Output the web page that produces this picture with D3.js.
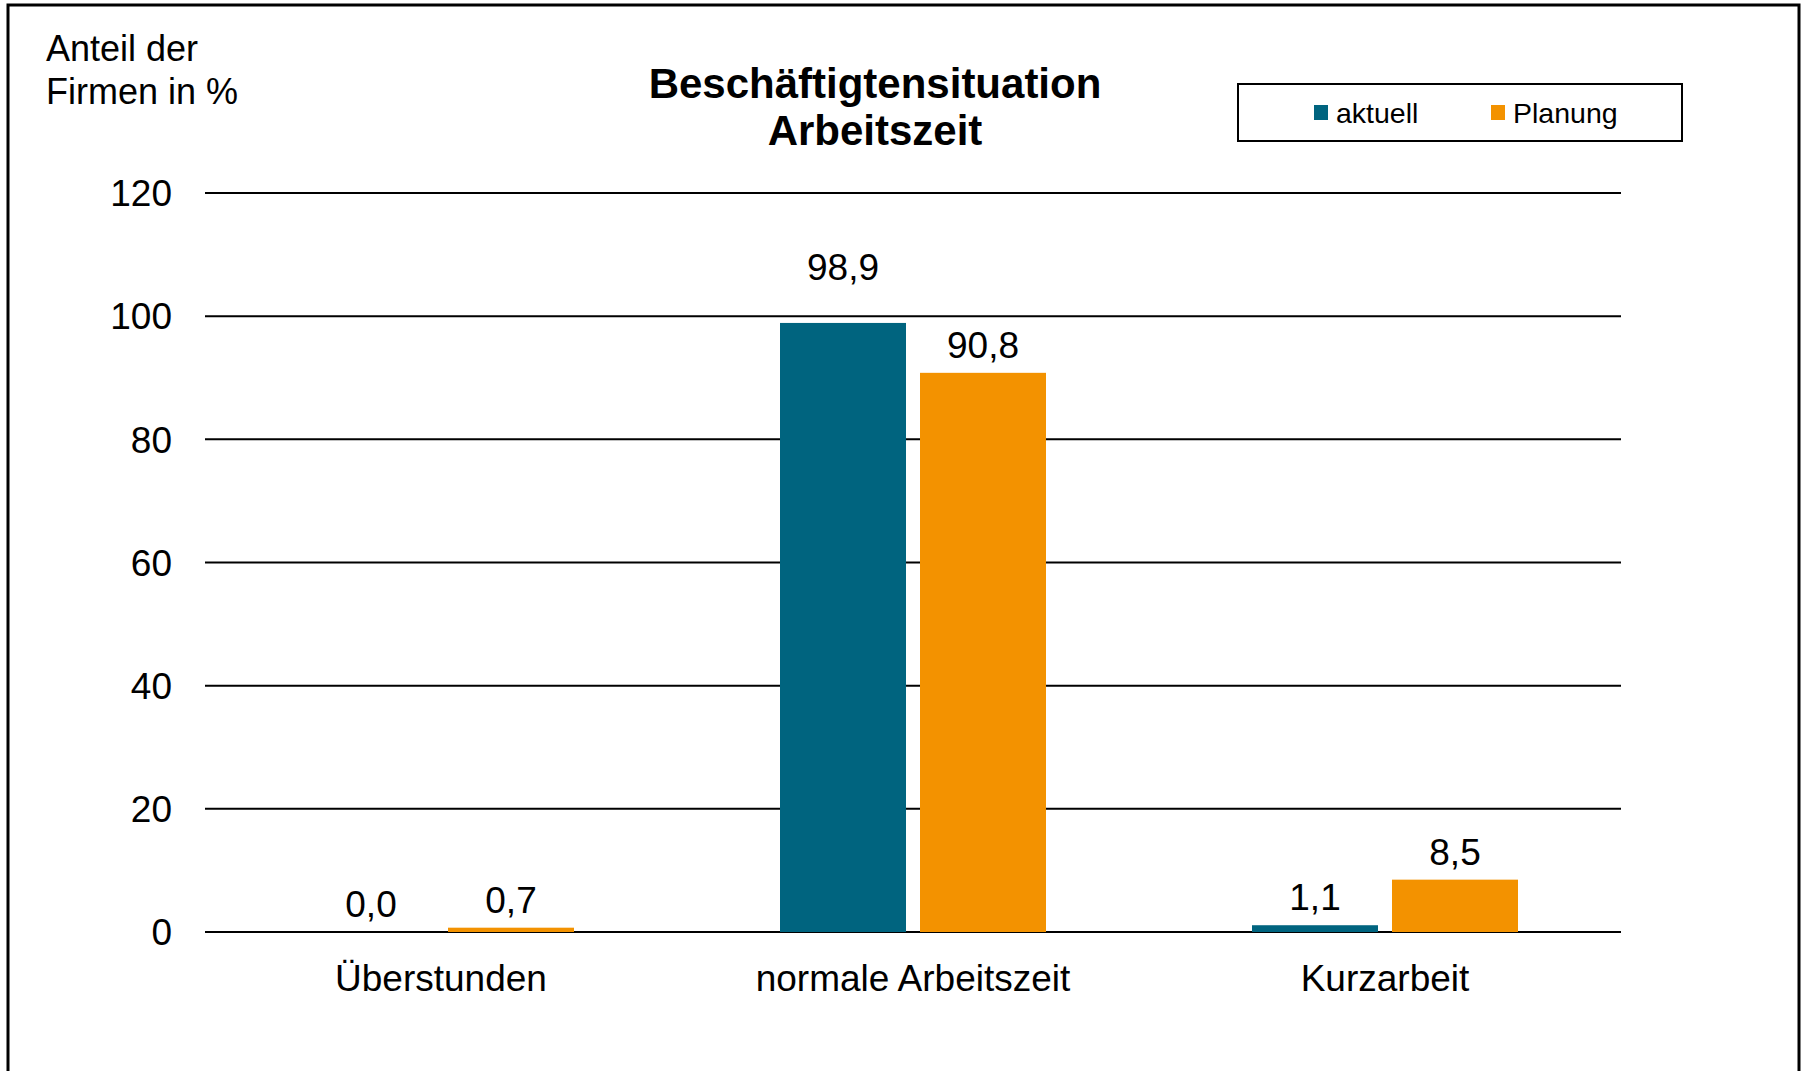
<!DOCTYPE html>
<html>
<head>
<meta charset="utf-8">
<script src="https://cdn.jsdelivr.net/npm/d3@7"></script>
<style>
  body { margin: 0; background: #fff; }
  svg text { font-family: "Liberation Sans", Arial, sans-serif; fill: #000; }
</style>
</head>
<body>
<div id="chart"></div>
<script>
// Data
var categories = ["Überstunden", "normale Arbeitszeit", "Kurzarbeit"];
var seriesNames = ["aktuell", "Planung"];
var aktuell = [0.0, 98.9, 1.1];
var planung = [0.7, 90.8, 8.5];
var yTicks = [0, 20, 40, 60, 80, 100, 120];

var colors = { aktuell: "#00647f", Planung: "#f39200" };

var width = 1803, height = 1071;
// plot area (note: "top" is reserved on window, so use other names)
var plotLeft = 205, plotRight = 1621, plotTop = 193, plotBottom = 932;

var svg = d3.select("#chart")
  .append("svg")
  .attr("width", width)
  .attr("height", height);

// outer frame
svg.append("rect")
  .attr("x", 8).attr("y", 5)
  .attr("width", 1791).attr("height", 1100)
  .attr("fill", "none")
  .attr("stroke", "#000")
  .attr("stroke-width", 3);

var y = d3.scaleLinear().domain([0, 120]).range([plotBottom, plotTop]);

var x0 = d3.scaleBand().domain(categories).range([plotLeft, plotRight]);
var x1 = d3.scaleBand().domain(seriesNames)
  .range([103, x0.bandwidth() - 103])
  .paddingInner(0.1);

// gridlines
svg.append("g")
  .selectAll("line")
  .data(yTicks)
  .enter()
  .append("line")
  .attr("x1", plotLeft).attr("x2", plotRight)
  .attr("y1", function (d) { return y(d); })
  .attr("y2", function (d) { return y(d); })
  .attr("stroke", "#000")
  .attr("stroke-width", 2);

// y tick labels
svg.append("g")
  .selectAll("text")
  .data(yTicks)
  .enter()
  .append("text")
  .attr("x", 172)
  .attr("y", function (d) { return y(d); })
  .attr("dy", "0.36em")
  .attr("text-anchor", "end")
  .style("font-size", "37px")
  .text(function (d) { return d; });

// bars
var rows = [];
categories.forEach(function (c, i) {
  rows.push({ cat: c, series: "aktuell", value: aktuell[i] });
  rows.push({ cat: c, series: "Planung", value: planung[i] });
});

svg.append("g")
  .selectAll("rect")
  .data(rows)
  .enter()
  .append("rect")
  .attr("x", function (d) { return x0(d.cat) + x1(d.series); })
  .attr("y", function (d) { return y(d.value); })
  .attr("width", x1.bandwidth())
  .attr("height", function (d) { return y(0) - y(d.value); })
  .attr("fill", function (d) { return colors[d.series]; });

// value labels (one label was moved up by hand in the original)
var de = d3.formatLocale({ decimal: ",", thousands: ".", grouping: [3], currency: ["", " €"] });
var fmt = de.format(".1f");
var labelNudge = { "normale Arbeitszeit|aktuell": 28 };

svg.append("g")
  .selectAll("text")
  .data(rows)
  .enter()
  .append("text")
  .attr("x", function (d) { return x0(d.cat) + x1(d.series) + x1.bandwidth() / 2; })
  .attr("y", function (d) {
    return y(d.value) - 15 - (labelNudge[d.cat + "|" + d.series] || 0);
  })
  .attr("text-anchor", "middle")
  .style("font-size", "37px")
  .text(function (d) { return fmt(d.value); });

// category labels
svg.append("g")
  .selectAll("text")
  .data(categories)
  .enter()
  .append("text")
  .attr("x", function (d) { return x0(d) + x0.bandwidth() / 2; })
  .attr("y", 991)
  .attr("text-anchor", "middle")
  .style("font-size", "37px")
  .text(function (d) { return d; });

// axis title
svg.append("text")
  .attr("x", 46).attr("y", 61)
  .style("font-size", "36px")
  .text("Anteil der");
svg.append("text")
  .attr("x", 46).attr("y", 104)
  .style("font-size", "36px")
  .text("Firmen in %");

// chart title
svg.append("text")
  .attr("x", 875).attr("y", 98)
  .attr("text-anchor", "middle")
  .style("font-size", "42px")
  .style("font-weight", "bold")
  .text("Beschäftigtensituation");
svg.append("text")
  .attr("x", 875).attr("y", 145)
  .attr("text-anchor", "middle")
  .style("font-size", "42px")
  .style("font-weight", "bold")
  .text("Arbeitszeit");

// legend
var legend = svg.append("g");
legend.append("rect")
  .attr("x", 1238).attr("y", 84)
  .attr("width", 444).attr("height", 57)
  .attr("fill", "#fff")
  .attr("stroke", "#000")
  .attr("stroke-width", 2);

var legendX = [1314, 1491];
var item = legend.selectAll("g.item")
  .data(seriesNames)
  .enter()
  .append("g")
  .attr("class", "item")
  .attr("transform", function (d, i) { return "translate(" + legendX[i] + ",0)"; });

item.append("rect")
  .attr("x", 0).attr("y", 105)
  .attr("width", 14).attr("height", 15)
  .attr("fill", function (d) { return colors[d]; });

item.append("text")
  .attr("x", 22).attr("y", 123)
  .style("font-size", "28.5px")
  .text(function (d) { return d; });
</script>
</body>
</html>
